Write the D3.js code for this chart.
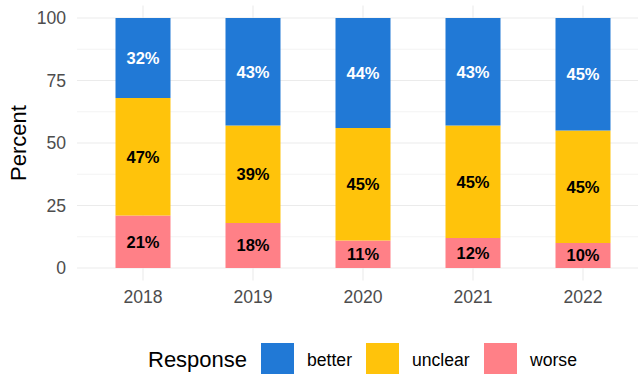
<!DOCTYPE html>
<html>
<head>
<meta charset="utf-8">
<script src="https://cdn.jsdelivr.net/npm/d3@7"></script>
<style>
  body { margin: 0; background: #fff; }
  svg { font-family: "Liberation Sans", Arial, sans-serif; display: block; }
</style>
</head>
<body>
<svg id="chart"></svg>
<script>
// datos
const years = ["2018", "2019", "2020", "2021", "2022"];
const responses = ["worse", "unclear", "better"];
const worse = [21, 18, 11, 12, 10];
const unclear = [47, 39, 45, 45, 45];
const better = [32, 43, 44, 43, 45];
const yTicks = [0, 25, 50, 75, 100];
const legendOrder = ["better", "unclear", "worse"];

const colors = { better: "#2179D6", unclear: "#FFC30B", worse: "#FF8087" };
const textColors = { better: "#ffffff", unclear: "#000000", worse: "#000000" };

const width = 643, height = 374;
const panel = { left: 77, right: 638, top: 5.5, bottom: 280.5 };

const svg = d3.select("#chart").attr("width", width).attr("height", height);

const x = d3.scaleBand().domain(years).range([88, 638]).paddingInner(0.5).paddingOuter(0.25);
const y = d3.scaleLinear().domain([-5, 105]).range([panel.bottom, panel.top]);

// rejilla menor
const minor = [12.5, 37.5, 62.5, 87.5];
svg.selectAll(".minor")
    .data(minor)
    .enter().append("line")
    .attr("x1", panel.left).attr("x2", panel.right)
    .attr("y1", d => y(d)).attr("y2", d => y(d))
    .attr("stroke", "#ebebeb").attr("stroke-width", 0.6);

// rejilla mayor
svg.selectAll(".major")
    .data(yTicks)
    .enter().append("line")
    .attr("x1", panel.left).attr("x2", panel.right)
    .attr("y1", d => y(d)).attr("y2", d => y(d))
    .attr("stroke", "#ebebeb").attr("stroke-width", 1.1);

svg.selectAll(".vgrid")
    .data(years)
    .enter().append("line")
    .attr("x1", d => x(d) + x.bandwidth() / 2).attr("x2", d => x(d) + x.bandwidth() / 2)
    .attr("y1", panel.top).attr("y2", panel.bottom)
    .attr("stroke", "#ebebeb").attr("stroke-width", 1.1);

// pilas
const table = years.map((yr, i) => ({ year: yr, worse: worse[i], unclear: unclear[i], better: better[i] }));
const series = d3.stack().keys(responses)(table);

const layer = svg.selectAll(".layer")
    .data(series)
    .enter().append("g")
    .attr("fill", d => colors[d.key]);

layer.selectAll("rect")
    .data(d => d)
    .enter().append("rect")
    .attr("x", d => x(d.data.year))
    .attr("width", x.bandwidth())
    .attr("y", d => y(d[1]))
    .attr("height", d => y(d[0]) - y(d[1]));

// etiquetas
series.forEach(s => {
    svg.selectAll(".lbl-" + s.key)
        .data(s)
        .enter().append("text")
        .attr("x", d => x(d.data.year) + x.bandwidth() / 2)
        .attr("y", d => y((d[0] + d[1]) / 2))
        .attr("dy", "0.36em")
        .attr("text-anchor", "middle")
        .attr("font-size", "16.5px")
        .attr("font-weight", "bold")
        .attr("fill", textColors[s.key])
        .text(d => (d[1] - d[0]) + "%");
});

// ejes
svg.selectAll(".ytick")
    .data(yTicks)
    .enter().append("text")
    .attr("x", 66)
    .attr("y", d => y(d))
    .attr("dy", "0.36em")
    .attr("text-anchor", "end")
    .attr("font-size", "17.6px")
    .attr("fill", "#4d4d4d")
    .text(d => d);

svg.selectAll(".xtick")
    .data(years)
    .enter().append("text")
    .attr("x", d => x(d) + x.bandwidth() / 2)
    .attr("y", 303)
    .attr("text-anchor", "middle")
    .attr("font-size", "17.6px")
    .attr("fill", "#4d4d4d")
    .text(d => d);

svg.append("text")
    .attr("transform", `translate(25.5,${y(50)}) rotate(-90)`)
    .attr("text-anchor", "middle")
    .attr("font-size", "22px")
    .attr("fill", "#000")
    .text("Percent");

// leyenda
const legend = svg.append("g");
legend.append("text")
    .attr("x", 148).attr("y", 366.5)
    .attr("font-size", "22px")
    .attr("fill", "#000")
    .text("Response");

const keyX = [261, 366, 484];
legendOrder.forEach((k, i) => {
    legend.append("rect")
        .attr("x", keyX[i]).attr("y", 343)
        .attr("width", 33).attr("height", 33)
        .attr("fill", colors[k]);
    legend.append("text")
        .attr("x", keyX[i] + 46).attr("y", 366)
        .attr("font-size", "17.6px")
        .attr("fill", "#000")
        .text(k);
});
</script>
</body>
</html>
